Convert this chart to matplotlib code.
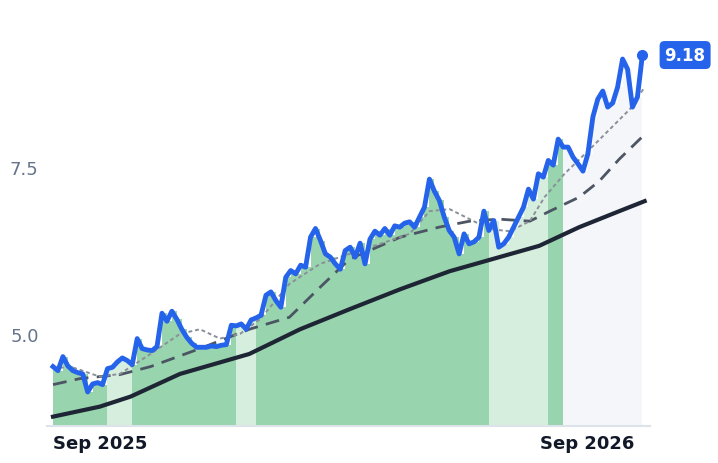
import matplotlib
matplotlib.use("Agg")
import matplotlib.pyplot as plt
import numpy as np
import pandas as pd

price = [4.51,4.45,4.66,4.52,4.45,4.42,4.40,4.13,4.25,4.27,4.24,4.48,4.50,4.58,4.64,4.60,4.54,4.93,4.78,4.76,
         4.75,4.81,5.31,5.19,5.34,5.22,5.07,4.95,4.86,4.80,4.80,4.80,4.82,4.81,4.83,4.84,5.13,5.12,5.15,5.07,
         5.21,5.24,5.28,5.58,5.63,5.50,5.40,5.85,5.95,5.90,6.03,6.00,6.45,6.58,6.40,6.20,6.15,6.05,5.97,6.25,
         6.30,6.15,6.36,6.05,6.42,6.54,6.48,6.58,6.48,6.62,6.60,6.66,6.68,6.60,6.75,6.90,7.32,7.14,7.00,6.75,
         6.55,6.45,6.20,6.50,6.35,6.38,6.45,6.84,6.55,6.70,6.30,6.35,6.45,6.60,6.75,6.90,7.17,7.02,7.40,7.35,
         7.60,7.53,7.92,7.80,7.80,7.65,7.55,7.44,7.70,8.25,8.52,8.64,8.40,8.46,8.70,9.12,8.97,8.40,8.55,9.18]
# moving-average style lines, read at coarser positions (days from start)
solid_days = [0, 35, 58, 95, 147, 185, 222, 260, 297, 334, 364, 394, 424, 443]
solid = [3.76, 3.91, 4.06, 4.40, 4.70, 5.07, 5.37, 5.67, 5.94, 6.15, 6.32, 6.60, 6.84, 6.99]
dashed_days = [0, 20, 50, 73, 110, 147, 177, 200, 222, 260, 289, 312, 334, 357, 372, 394, 409, 424, 443]
dashed = [4.24, 4.33, 4.39, 4.51, 4.78, 5.07, 5.25, 5.70, 6.12, 6.45, 6.60, 6.69, 6.72, 6.69, 6.84, 7.05, 7.29, 7.62, 7.99]
dotted_days = [0, 13, 35, 50, 73, 95, 110, 125, 140, 155, 177, 200, 222, 245, 267, 282, 297, 312, 327,
               342, 357, 368, 383, 402, 417, 432, 443]
dotted = [4.48, 4.51, 4.36, 4.40, 4.70, 5.00, 5.07, 4.93, 5.00, 5.22, 5.75, 6.05, 6.20, 6.35, 6.50, 6.84,
          6.87, 6.72, 6.57, 6.54, 6.69, 7.05, 7.40, 7.77, 8.07, 8.37, 8.70]
# shading segments (day offsets) and their style
seg_edges = [0, 40, 59, 134, 151, 323, 370, 379, 443]
seg_kind = ["g", "l", "g", "l", "g", "l", "g", "x"]

start = pd.Timestamp("2025-09-01")
dates = pd.date_range(start, periods=len(price), freq="89h")
p = np.array(price)
td = lambda d: start + pd.to_timedelta(d, unit="D")

fig = plt.figure(figsize=(7.18, 4.64), dpi=100)
ax = fig.add_axes([47/718, 37/464, 603/718, 417/464])
ymin, ymax = 3.62, 9.87
days = np.array([(d - start).total_seconds()/86400 for d in dates])
colors = {"g": "#98d4ad", "l": "#d6eedd", "x": "#f5f6f9"}
for i, k in enumerate(seg_kind):
    m = (days >= seg_edges[i]) & (days <= seg_edges[i+1] + 4)
    ax.fill_between(dates[m], ymin, p[m], step="post", color=colors[k], lw=0, zorder=1)
ax.plot(td(solid_days), solid, color="#1e2535", lw=3, zorder=3)
ax.plot(td(dashed_days), dashed, color="#4b5563", lw=2, ls=(0, (5, 3)), zorder=3)
ax.plot(td(dotted_days), dotted, color="#8a8f99", lw=1.4, ls=(0, (2, 1.5)), zorder=3)
ax.plot(dates, p, color="#2563eb", lw=3.5, zorder=4, solid_joinstyle="round")
ax.plot(dates[-1], p[-1], "o", color="#2563eb", ms=7, zorder=5)
ax.annotate(f"{p[-1]:.2f}", (dates[-1], p[-1]), xytext=(16, 0), textcoords="offset points",
            ha="left", va="center", color="white", fontsize=12, fontweight="bold",
            bbox=dict(boxstyle="round,pad=0.3", fc="#2563eb", ec="none"), annotation_clip=False)

ax.set_ylim(ymin, ymax)
ax.set_xlim(start - pd.Timedelta(days=4.5), start + pd.Timedelta(days=447))
ax.set_yticks([5.0, 7.5])
ax.set_yticklabels(["5.0", "7.5"], color="#64748b", fontsize=13)
ax.set_xticks([pd.Timestamp("2025-09-01"), pd.Timestamp("2026-09-01")])
ax.set_xticklabels(["Sep 2025", "Sep 2026"], fontsize=13, fontweight="bold", color="#111827", ha="left")
ax.tick_params(length=0, pad=6)
for s in ["top", "right", "left"]:
    ax.spines[s].set_visible(False)
ax.spines["bottom"].set_color("#dde3ea")
ax.spines["bottom"].set_linewidth(1.5)
fig.savefig("out.png", dpi=100)
